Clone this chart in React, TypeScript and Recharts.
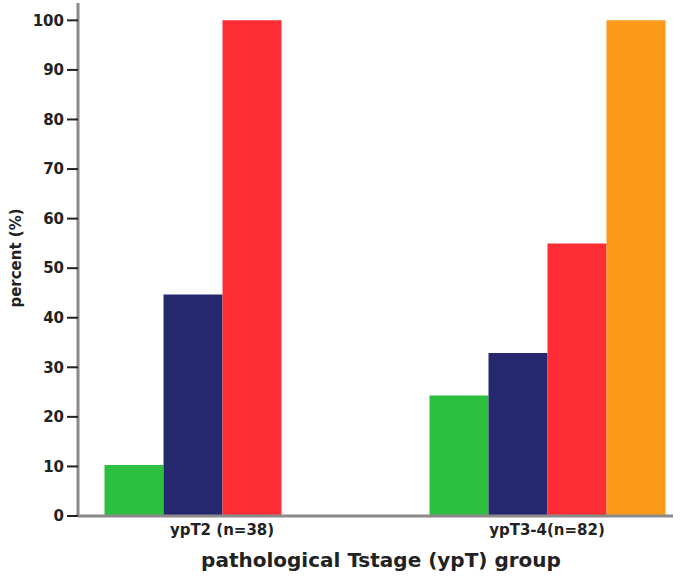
import { BarChart, Bar, XAxis, YAxis, Label } from "recharts";

const categories = ["ypT2 (n=38)", "ypT3-4(n=82)"];
const greenValues = [10.3, 24.3];
const navyValues = [44.7, 32.9];
const redValues = [100, 55];
const orangeValues: (number | null)[] = [null, 100];
const yTicks = [0, 10, 20, 30, 40, 50, 60, 70, 80, 90, 100];

const data = categories.map((group, i) => ({
  group,
  green: greenValues[i],
  navy: navyValues[i],
  red: redValues[i],
  orange: orangeValues[i],
}));

const FONT = "'DejaVu Sans', sans-serif";

export default function App() {
  return (
    <div style={{ position: "absolute", left: 0, top: 0 }}>
      <BarChart
        width={680}
        height={575}
        data={data}
        margin={{ top: 3, right: 7, bottom: 0, left: 18 }}
        barGap={0}
        barSize={59}
      >
        <XAxis
          dataKey="group"
          height={59}
          padding={{ left: -18.5, right: -36.5 }}
          axisLine={{ stroke: "#8a8a8a", strokeWidth: 3 }}
          tickLine={false}
          tickSize={6}
          tickMargin={2}
          tick={{ fill: "#222", fontSize: 15, fontWeight: "bold", fontFamily: FONT }}
        >
          <Label
            content={() => (
              <text
                x={381}
                y={567}
                textAnchor="middle"
                fill="#222"
                fontSize={20}
                fontWeight="bold"
                fontFamily={FONT}
              >
                pathological Tstage (ypT) group
              </text>
            )}
          />
        </XAxis>
        <YAxis
          width={60}
          domain={[0, 103.5]}
          ticks={yTicks}
          interval={0}
          allowDataOverflow
          axisLine={{ stroke: "#8a8a8a", strokeWidth: 3 }}
          tickLine={{ stroke: "#222", strokeWidth: 2 }}
          tickSize={11}
          tickMargin={3}
          tick={{ fill: "#222", fontSize: 15, fontWeight: "bold", fontFamily: FONT }}
        >
          <Label
            content={() => (
              <text
                x={16}
                y={258}
                transform="rotate(-90 16 258)"
                textAnchor="middle"
                dominantBaseline="central"
                fill="#222"
                fontSize={15}
                fontWeight="bold"
                fontFamily={FONT}
              >
                percent (%)
              </text>
            )}
          />
        </YAxis>
        <Bar dataKey="green" fill="#2dbf40" isAnimationActive={false} />
        <Bar dataKey="navy" fill="#25276f" isAnimationActive={false} />
        <Bar dataKey="red" fill="#fd2c35" isAnimationActive={false} />
        <Bar dataKey="orange" fill="#fd9a1c" isAnimationActive={false} />
      </BarChart>
    </div>
  );
}
